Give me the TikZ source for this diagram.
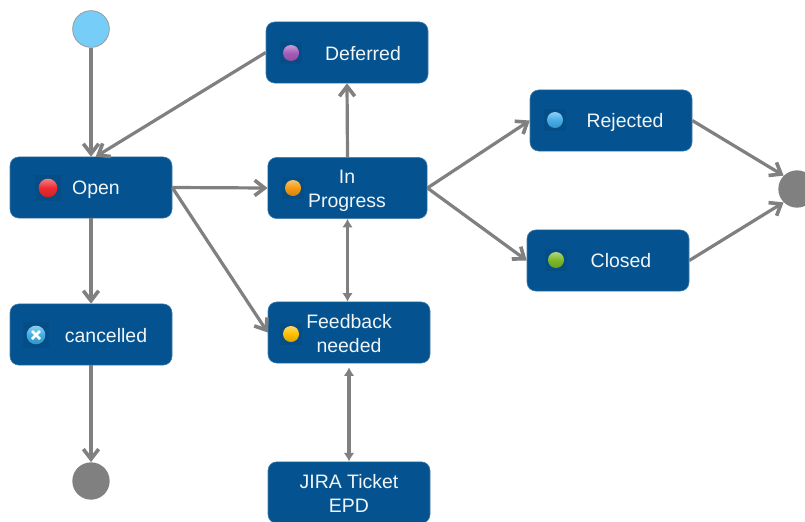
\documentclass[tikz,border=0pt]{standalone}
\usepackage{fontspec}
\setmainfont{Liberation Sans}
\usetikzlibrary{arrows.meta,calc}
\definecolor{boxblue}{HTML}{04528F}
\definecolor{iconback}{HTML}{044D87}
\definecolor{conn}{HTML}{808080}
\definecolor{startblue}{HTML}{76CDF7}
\definecolor{dred}{HTML}{EE2A30}
\definecolor{dpurple}{HTML}{A55CB8}
\definecolor{dorange}{HTML}{F39A12}
\definecolor{dgold}{HTML}{FFBE00}
\definecolor{dblue}{HTML}{45AEE8}
\definecolor{dgreen}{HTML}{7DB928}
\definecolor{dcancel}{HTML}{3FAEE6}
\tikzset{
  boxnode/.style={draw=boxblue!75!white,line width=0.4pt,fill=boxblue,rounded corners=6.5pt,minimum width=121.5pt,minimum height=45.8pt,inner sep=0pt},
  txt/.style={text=white!94!boxblue,font=\fontsize{14.6pt}{18pt}\selectfont,align=center,inner sep=0pt},
  ballnode/.style={circle,inner sep=0pt,minimum size=#1},
  iconsq/.style={fill=iconback,inner sep=0pt,minimum size=#1},
  flowline/.style={draw=conn,line width=2.4pt,-{Straight Barb[length=7.5pt,width=11.5pt,line width=2.7pt]}},
  bothline/.style={draw=conn,line width=2.4pt,{Latex[length=6.5pt,width=8pt]}-{Latex[length=6.5pt,width=8pt]}},
}
\newcommand{\dotball}[4]{%
  \node[iconsq=#4+5pt] at #2 {};
  \node[ballnode=#4,shade,top color=#3!60!white,bottom color=#3!85!black,middle color=#3,line width=0.2pt] (#1) at #2 {};}
\begin{document}
\begin{tikzpicture}[x=0.75pt,y=-0.75pt]
\useasboundingbox (0,0) rectangle (805,521);
\clip (0,0) rectangle (805,521);
\fill[white] (0,0) rectangle (805,521);
% boxes
\node[boxnode] (open) at (91,187.5) {};
\node[boxnode] (cancelled) at (91,334.5) {};
\node[boxnode] (deferred) at (347,52.5) {};
\node[boxnode,minimum width=119.5pt] (progress) at (347.5,188) {};
\node[boxnode] (feedback) at (349,332.5) {};
\node[boxnode,minimum height=46pt] (jira) at (349,492.5) {};
\node[boxnode] (rejected) at (611,120.5) {};
\node[boxnode] (closed) at (608,260.5) {};
% circles
\node[circle,draw=conn!80!white,line width=0.6pt,fill=startblue,minimum size=27.5pt,inner sep=0pt] (start) at (91,29) {};
\node[circle,fill=conn,minimum size=28pt,inner sep=0pt] (endb) at (91,481) {};
\node[circle,fill=conn,minimum size=28pt,inner sep=0pt] (endr) at (797,189) {};
% labels
\node[txt] (topen) at (96,189.5) {Open};
\node[txt] (tcancelled) at (106,336) {cancelled};
\node[txt] (tdeferred) at (363,54) {Deferred};
\node[txt] (tprogress) at (347,191) {In\\Progress};
\node[txt] (tfeedback) at (349,334) {Feedback\\needed};
\node[txt] (tjira) at (349,493) {JIRA Ticket\\EPD};
\node[txt] (trejected) at (625,122) {Rejected};
\node[txt] (tclosed) at (621,261) {Closed};
% status dots
\dotball{dopen}{(48,188)}{dred}{14pt}
\dotball{ddeferred}{(291,53)}{dpurple}{12pt}
\dotball{dprogress}{(293,188)}{dorange}{12pt}
\dotball{dfeedback}{(291,334)}{dgold}{12pt}
\dotball{drejected}{(555,120)}{dblue}{12pt}
\dotball{dclosed}{(556,260)}{dgreen}{12pt}
\dotball{dcancelled}{(36,335)}{dcancel}{14pt}
\draw[white,line width=2.1pt] ([shift={(-3pt,-3pt)}]dcancelled.center) -- ([shift={(3pt,3pt)}]dcancelled.center);
\draw[white,line width=2.1pt] ([shift={(-3pt,3pt)}]dcancelled.center) -- ([shift={(3pt,-3pt)}]dcancelled.center);
% connectors
\draw[flowline] (start) -- (open.north);
\draw[flowline] (deferred.west) -- ([xshift=3.5pt]open.north);
\draw[flowline] (open.east) -- (progress.west);
\draw[flowline] (open.east) -- (feedback.west);
\draw[flowline] (open.south) -- (cancelled.north);
\draw[flowline] (cancelled.south) -- (endb);
\draw[flowline] (progress.north) -- (deferred.south);
\draw[bothline] (progress.south) -- (progress.south |- feedback.north);
\draw[bothline,shorten <=3pt] (feedback.south) -- (jira.north);
\draw[flowline] (progress.east) -- (rejected.west);
\draw[flowline] (progress.east) -- (closed.west);
\draw[flowline] (rejected.east) -- (endr.135);
\draw[flowline] (closed.east) -- (endr.225);
\end{tikzpicture}
\end{document}
